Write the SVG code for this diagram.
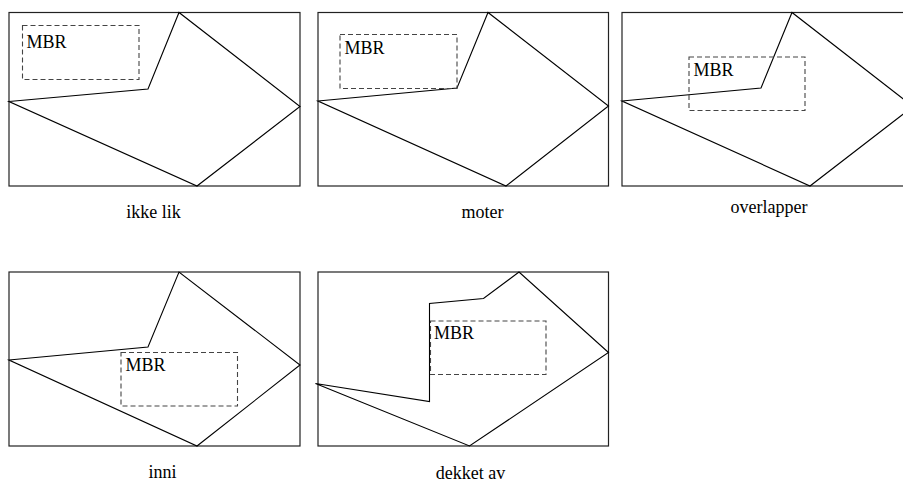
<svg xmlns="http://www.w3.org/2000/svg" width="903" height="484" viewBox="0 0 903 484">
  <style>
    .frame { fill: none; stroke: #222; stroke-width: 1.2; }
    .poly { fill: none; stroke: #000; stroke-width: 1.1; stroke-linejoin: miter; }
    .mbr { fill: none; stroke: #444; stroke-width: 1.1; stroke-dasharray: 5 3; }
    .lbl { font-family: "Liberation Serif", "Times New Roman", serif; font-size: 18px; fill: #000; }
    .cap { text-anchor: middle; }
  </style>
  <rect width="903" height="484" fill="#fff"/>

  <!-- disjoint -->
  <g id="ikke-lik">
    <rect class="frame" x="9" y="12.5" width="291" height="173.5"/>
    <polygon class="poly" points="9,101.5 148,89 179,12.5 300,106.5 197,186"/>
    <rect class="mbr" x="22.5" y="25.5" width="116.5" height="54"/>
    <text class="lbl" x="26.5" y="48">MBR</text>
    <text class="lbl cap" x="153.5" y="218">ikke lik</text>
  </g>

  <!-- touching -->
  <g id="moter">
    <rect class="frame" x="318" y="12.5" width="290.5" height="173.5"/>
    <polygon class="poly" points="318,101 457,88 488,12.5 608.5,106 506,186"/>
    <rect class="mbr" x="340" y="34.5" width="117" height="54"/>
    <text class="lbl" x="344.5" y="53.5">MBR</text>
    <text class="lbl cap" x="482.5" y="218">moter</text>
  </g>

  <!-- overlapping -->
  <g id="overlapper">
    <rect class="frame" x="622" y="12.5" width="291" height="173.5"/>
    <polygon class="poly" points="622,101 761,88 792,12.5 913,106.5 810,186"/>
    <rect class="mbr" x="689" y="57" width="116" height="53.5"/>
    <text class="lbl" x="693.5" y="75.5">MBR</text>
    <text class="lbl cap" x="769" y="212.5">overlapper</text>
  </g>

  <!-- inside -->
  <g id="inni">
    <rect class="frame" x="9" y="272" width="291" height="174"/>
    <polygon class="poly" points="9,360 148,347 179,272 300,365 197,446"/>
    <rect class="mbr" x="121" y="352.5" width="116.5" height="53.5"/>
    <text class="lbl" x="125.5" y="370.5">MBR</text>
    <text class="lbl cap" x="162.5" y="478">inni</text>
  </g>

  <!-- covered by -->
  <g id="dekket-av">
    <rect class="frame" x="318" y="272" width="290.5" height="174"/>
    <polygon class="poly" points="315.5,383.5 429.5,401.5 429.5,303.5 483.5,298.5 519,272 608.5,352.5 469.5,446"/>
    <rect class="mbr" x="430.5" y="321" width="115.5" height="53.5"/>
    <text class="lbl" x="434" y="339">MBR</text>
    <text class="lbl cap" x="470.5" y="478.5">dekket av</text>
  </g>
</svg>
